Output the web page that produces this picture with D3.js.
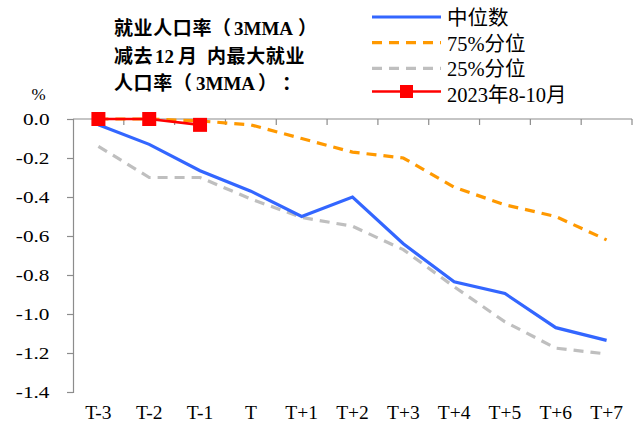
<!DOCTYPE html>
<html>
<head>
<meta charset="utf-8">
<script src="https://cdn.jsdelivr.net/npm/d3@7"></script>
<style>
  html, body { margin: 0; padding: 0; background: #fff; }
  svg { display: block; }
</style>
</head>
<body>
<svg id="chart" width="636" height="423"></svg>
<script>
// Periods relative to event month T
const categories = ["T-3", "T-2", "T-1", "T", "T+1", "T+2", "T+3", "T+4", "T+5", "T+6", "T+7"];
// Employment rate (3MMA) minus 12-month max, %
const median = [-0.03, -0.13, -0.265, -0.37, -0.50, -0.40, -0.64, -0.835, -0.895, -1.07, -1.135];
const p75 = [0.0, 0.0, -0.01, -0.03, -0.10, -0.17, -0.20, -0.35, -0.44, -0.50, -0.62];
const p25 = [-0.14, -0.30, -0.30, -0.41, -0.505, -0.55, -0.67, -0.86, -1.04, -1.175, -1.205];
const recent = [0.0, 0.0, -0.03];
const yTicks = [0.0, -0.2, -0.4, -0.6, -0.8, -1.0, -1.2, -1.4];

const svg = d3.select("#chart");
const serif = "'Liberation Serif', 'Times New Roman', 'Noto Sans CJK SC', serif";
const axisColor = "#8c8c8c";

const plot = { left: 73, right: 632, top: 119, bottom: 392 };

const x = d3.scaleBand().domain(categories).range([plot.left, plot.right]).padding(0);
const y = d3.scaleLinear().domain([-1.4, 0]).range([plot.bottom, plot.top]);
const cx = c => x(c) + x.bandwidth() / 2;

// Y axis (labels drawn separately, slightly widened)
const yAxis = svg.append("g")
  .attr("transform", `translate(${plot.left},0)`)
  .call(d3.axisLeft(y).tickValues(yTicks).tickFormat("").tickSize(6));
yAxis.select(".domain").attr("stroke", axisColor).attr("stroke-width", 1.2);
yAxis.selectAll(".tick line").attr("stroke", axisColor).attr("stroke-width", 1.2);

svg.append("g").selectAll("text").data(yTicks).enter().append("text")
  .attr("transform", d => `translate(49.5,${y(d) + 6.3}) scale(1.25,1)`)
  .attr("text-anchor", "end")
  .style("font-family", serif).style("font-size", "17px")
  .text(d => d3.format(".1f")(d).replace("−", "-").replace("-0.0", "0.0"));

// X axis sits at zero, ticks between categories
const xAxisG = svg.append("g").attr("transform", `translate(0,${y(0)})`);
xAxisG.append("line")
  .attr("x1", plot.left).attr("x2", plot.right)
  .attr("stroke", axisColor).attr("stroke-width", 1.2);
const bounds = categories.map(c => x(c)).concat([x(categories[categories.length - 1]) + x.bandwidth()]);
xAxisG.selectAll("line.tk").data(bounds.slice(1)).enter().append("line")
  .attr("class", "tk")
  .attr("x1", d => d).attr("x2", d => d)
  .attr("y1", 0).attr("y2", 6)
  .attr("stroke", axisColor).attr("stroke-width", 1.2);

// Category labels along the bottom
svg.append("g").selectAll("text").data(categories).enter().append("text")
  .attr("x", d => cx(d)).attr("y", 419)
  .attr("text-anchor", "middle")
  .style("font-family", serif).style("font-size", "19.5px")
  .text(d => d);

// Unit label
svg.append("text").attr("x", 38.5).attr("y", 100).attr("text-anchor", "middle")
  .style("font-family", serif).style("font-size", "17px").text("%");

const line = d3.line().x((d, i) => cx(categories[i])).y(d => y(d));

svg.append("path").datum(p25).attr("d", line)
  .attr("fill", "none").attr("stroke", "#bfbfbf").attr("stroke-width", 3.2)
  .attr("stroke-dasharray", "10,7");
svg.append("path").datum(p75).attr("d", line)
  .attr("fill", "none").attr("stroke", "#ff9900").attr("stroke-width", 3.2)
  .attr("stroke-dasharray", "10,7");
svg.append("path").datum(median).attr("d", line)
  .attr("fill", "none").attr("stroke", "#3366ff").attr("stroke-width", 3.2);
svg.append("path").datum(recent).attr("d", line)
  .attr("fill", "none").attr("stroke", "#ff0000").attr("stroke-width", 2.6);
svg.append("g").selectAll("rect").data(recent).enter().append("rect")
  .attr("x", (d, i) => cx(categories[i]) - 7).attr("y", d => y(d) - 7)
  .attr("width", 14).attr("height", 14).attr("fill", "#ff0000");

// Title, three lines; each line is laid out in runs so Latin and CJK spacing stay natural
const titleRuns = [
  [["就业人口率", 114], ["（", 212], ["3MMA", 234], ["）", 298]],
  [["减去", 114], ["12", 155], ["月", 178], ["内最大就业", 207]],
  [["人口率", 114], ["（", 173], ["3MMA", 196], ["）", 258], ["：", 282]]
];
const titleBase = [35, 62.5, 90];
const title = svg.append("g")
  .style("font-family", serif).style("font-size", "19px").style("font-weight", "bold");
titleRuns.forEach((runs, i) => {
  const t = title.append("text").attr("y", titleBase[i]);
  runs.forEach(([s, px]) => {
    t.append("tspan").attr("x", px)
      .style("letter-spacing", /[0-9A-Z]/.test(s) ? "0px" : "0.6px")
      .text(s);
  });
});

// Legend
const legend = [
  { label: "中位数", color: "#3366ff", dash: null, marker: false },
  { label: "75%分位", color: "#ff9900", dash: "10,7", marker: false },
  { label: "25%分位", color: "#bfbfbf", dash: "10,7", marker: false },
  { label: "2023年8-10月", color: "#ff0000", dash: null, marker: true }
];
const legendLineY = [17, 42.7, 68.3, 91.5];
const legendTextY = [25.3, 50.5, 76, 101.5];
const lg = svg.append("g");
legend.forEach((d, i) => {
  lg.append("line")
    .attr("x1", 372).attr("x2", 441).attr("y1", legendLineY[i]).attr("y2", legendLineY[i])
    .attr("stroke", d.color).attr("stroke-width", d.marker ? 2.6 : 3.2)
    .attr("stroke-dasharray", d.dash);
  if (d.marker) {
    lg.append("rect").attr("x", 400).attr("y", legendLineY[i] - 6.5)
      .attr("width", 13).attr("height", 13).attr("fill", d.color);
  }
  lg.append("text").attr("x", 447).attr("y", legendTextY[i])
    .style("font-family", serif).style("font-size", "20.5px")
    .text(d.label);
});
</script>
</body>
</html>
